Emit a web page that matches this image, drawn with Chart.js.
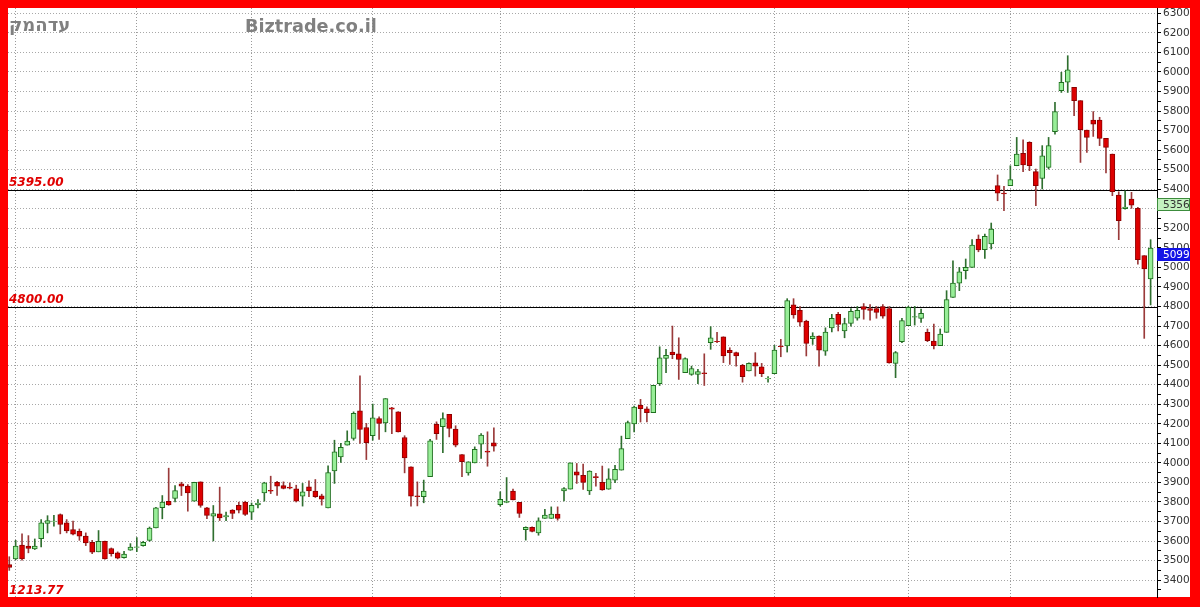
<!DOCTYPE html>
<html><head><meta charset="utf-8">
<script src="https://cdn.jsdelivr.net/npm/chart.js@4.4.0/dist/chart.umd.min.js"></script>
<style>html,body{margin:0;padding:0;background:#ff0000;overflow:hidden}#wrap{width:1200px;height:607px;position:relative}</style>
</head><body><div id="wrap"><canvas id="c" width="1200" height="607"></canvas></div>
<script>
// ---- data (OHLC, one candle per trading day, index 0..179) ----
const opens=[3480,3509,3580,3574,3560,3613,3690,3700,3736,3693,3659,3650,3625,3594,3545,3599,3562,3540,3515,3553,
3568,3577,3604,3668,3771,3804,3818,3893,3881,3804,3903,3770,3727,3739,3724,3758,3783,3800,3748,3785,
3847,3860,3901,3884,3876,3867,3830,3878,3856,3832,3770,3959,4031,4091,4125,4266,4181,4139,4227,4205,
4282,4261,4130,3980,3832,3827,3929,4197,4185,4248,4173,4043,3949,4000,4096,4060,4103,3786,3798,3856,
3798,3659,3670,3642,3716,3716,3738,3857,3866,3954,3937,3857,3930,3900,3865,3912,3963,4124,4200,4294,
4277,4257,4405,4535,4567,4558,4461,4453,4453,4461,4615,4622,4645,4576,4564,4499,4470,4512,4492,4430,
4456,4598,4598,4808,4780,4725,4636,4649,4572,4690,4760,4675,4713,4740,4800,4790,4790,4800,4790,4509,
4620,4702,4745,4739,4668,4623,4600,4668,4847,4920,4983,5000,5145,5091,5120,5418,5380,5418,5520,5583,
5640,5490,5455,5512,5694,5904,5947,5921,5853,5702,5754,5754,5660,5580,5370,5301,5350,5302,5060,4941];
const highs=[3520,3604,3637,3628,3611,3710,3730,3732,3739,3710,3702,3662,3642,3604,3654,3600,3565,3545,3548,3587,
3618,3599,3672,3773,3833,3973,3884,3901,3889,3901,3903,3773,3782,3876,3748,3761,3799,3804,3795,3812,
3901,3932,3906,3903,3898,3886,3895,3908,3915,3840,3985,4116,4100,4164,4261,4445,4202,4301,4236,4329,
4284,4262,4139,3980,3903,3912,4120,4210,4256,4248,4190,4043,4006,4082,4150,4159,4180,3852,3925,3866,
3798,3673,3673,3719,3762,3775,3775,3874,4000,3997,3994,3960,3946,3984,3970,3987,4137,4214,4291,4325,
4287,4397,4594,4581,4700,4640,4538,4495,4478,4558,4697,4668,4645,4589,4567,4504,4512,4564,4509,4441,
4601,4632,4840,4840,4800,4730,4666,4650,4691,4760,4770,4740,4790,4800,4815,4810,4800,4810,4800,4570,
4740,4801,4801,4787,4685,4710,4685,4881,5034,5000,5043,5142,5166,5171,5227,5473,5415,5520,5665,5653,
5643,5503,5623,5665,5844,5998,6083,5921,5853,5702,5797,5768,5660,5580,5387,5392,5384,5307,5060,5142];
const lows=[3450,3505,3502,3540,3557,3570,3642,3676,3637,3642,3632,3604,3577,3536,3545,3508,3523,3509,3512,3553,
3546,3574,3599,3668,3714,3783,3800,3833,3753,3804,3773,3715,3601,3705,3705,3715,3744,3731,3710,3770,
3804,3843,3833,3867,3867,3800,3779,3827,3823,3784,3770,3895,4002,4091,4116,4099,4017,4116,4120,4159,
4150,4158,3949,3779,3780,3796,3929,4120,4052,4133,4082,3929,3937,4000,4023,3983,4060,3779,3796,3810,
3721,3605,3647,3630,3716,3716,3707,3806,3866,3895,3864,3838,3881,3860,3865,3899,3963,4124,4158,4209,
4209,4257,4396,4461,4533,4427,4461,4448,4405,4396,4581,4615,4513,4504,4495,4413,4470,4444,4441,4413,
4456,4543,4567,4740,4700,4547,4606,4495,4550,4670,4675,4640,4700,4730,4735,4730,4740,4740,4510,4436,
4615,4702,4705,4719,4620,4583,4600,4668,4847,4881,4941,5000,5080,5046,5094,5341,5290,5418,5520,5490,
5495,5316,5401,5503,5682,5895,5895,5776,5537,5588,5670,5623,5483,5367,5142,5298,5302,5017,4637,4808];
const closes=[3465,3574,3509,3562,3574,3693,3705,3702,3685,3652,3635,3625,3591,3543,3599,3509,3536,3512,3534,3570,
3571,3594,3666,3770,3800,3785,3858,3881,3847,3901,3783,3731,3741,3719,3731,3741,3758,3736,3783,3795,
3898,3856,3881,3870,3871,3804,3852,3857,3827,3815,3951,4057,4079,4111,4253,4171,4103,4231,4202,4329,
4275,4159,4026,3830,3827,3856,4113,4150,4227,4176,4091,4006,4006,4069,4142,4055,4086,3813,3803,3810,
3741,3670,3650,3704,3733,3738,3716,3869,4000,3937,3900,3958,3925,3862,3919,3967,4073,4206,4286,4277,
4257,4397,4538,4550,4553,4529,4533,4483,4467,4456,4640,4620,4547,4564,4547,4441,4509,4495,4456,4432,
4577,4595,4830,4757,4720,4611,4649,4577,4669,4740,4709,4713,4775,4780,4785,4780,4770,4750,4512,4564,
4728,4796,4748,4765,4625,4600,4659,4835,4920,4978,5000,5114,5089,5159,5196,5380,5376,5449,5580,5524,
5520,5418,5571,5623,5797,5947,6011,5853,5704,5665,5733,5660,5614,5387,5239,5309,5319,5040,4992,5099];
const monthStarts=[1,20,38,57,77,98,120,141,157];   // vertical grid lines (candle index)
const levelValues=[5395,4800];
const levelLabels=['5395.00','4800.00'];
const baseLabel='1213.77';
const markValue=5356;      // green marker box
const lastClose=5099;      // blue marker box
const titleText='עדהמק';   // Hebrew title (logical order)
const siteText='Biztrade.co.il';
const yMin=3314, yMax=6327, yStep=50;

// ---- build datasets ----
const idx=opens.map((_,i)=>i);
const up=idx.map(i=>closes[i]>=opens[i]);
const bodies=idx.map(i=>({x:i,y:[opens[i],closes[i]]}));
const wicks=idx.map(i=>({x:i,y:[lows[i],highs[i]]}));

const framePlugin={
  id:'frame',
  beforeDraw(chart){
    const ctx=chart.ctx;
    ctx.save();
    ctx.fillStyle='#ff0000';ctx.fillRect(0,0,chart.width,chart.height);
    ctx.fillStyle='#ffffff';ctx.fillRect(8,8,1182,589);
    ctx.restore();
  },
  beforeDatasetsDraw(chart){
    const ctx=chart.ctx,a=chart.chartArea,ys=chart.scales.y;
    ctx.save();
    ctx.strokeStyle='#000';ctx.lineWidth=1;
    levelValues.forEach(v=>{
      const y=Math.round(ys.getPixelForValue(v))+0.5;
      ctx.beginPath();ctx.moveTo(a.left,y);ctx.lineTo(a.right,y);ctx.stroke();
    });
    ctx.restore();
  },
  afterDraw(chart){
    const ctx=chart.ctx,a=chart.chartArea,ys=chart.scales.y;
    ctx.save();
    ctx.font='italic bold 12px "DejaVu Sans"';
    ctx.fillStyle='#e00000';ctx.textAlign='left';ctx.textBaseline='alphabetic';
    levelValues.forEach((v,k)=>{
      const y=Math.round(ys.getPixelForValue(v));
      ctx.fillText(levelLabels[k],9,y-4);
    });
    ctx.fillText(baseLabel,9,594);
    // Hebrew title: right-to-left, laid out glyph by glyph so the visual order is fixed
    ctx.fillStyle='#808080';
    ctx.font='bold 18px "DejaVu Sans"';
    let tx=9;
    Array.from(titleText).reverse().forEach(ch=>{ctx.fillText(ch,tx,31);tx+=ctx.measureText(ch).width;});
    ctx.font='bold 17.7px "DejaVu Sans"';
    ctx.fillText(siteText,245,32);
    const drawBox=(v,bg,border,fg)=>{
      const y=Math.round(ys.getPixelForValue(v));
      ctx.fillStyle=bg;ctx.fillRect(a.right,y,33,13);
      ctx.strokeStyle=border;ctx.lineWidth=1;ctx.strokeRect(a.right+0.5,y+0.5,32,12);
      ctx.fillStyle=fg;ctx.font='10.5px "DejaVu Sans"';ctx.textBaseline='middle';
      ctx.fillText(String(v),a.right+6,y+7);
    };
    drawBox(markValue,'#c4f2c0','#3c8c3c','#333333');
    drawBox(lastClose,'#1414e6','#1414e6','#ffffff');
    ctx.restore();
  }
};

new Chart(document.getElementById('c'),{
  type:'bar',
  data:{datasets:[
    {label:'body',data:bodies,grouped:false,barThickness:5,borderWidth:1,borderSkipped:false,
     backgroundColor:up.map(u=>u?'#98ee98':'#dd0000'),borderColor:up.map(u=>u?'#1f6f1f':'#8c0000')},
    {label:'wick',data:wicks,grouped:false,barThickness:1,borderWidth:0,
     backgroundColor:up.map(u=>u?'#2f6f2f':'#9a3a3a')}
  ]},
  options:{
    responsive:false,animation:false,devicePixelRatio:1,
    layout:{padding:{left:8,top:8,right:10,bottom:10}},
    plugins:{legend:{display:false},tooltip:{enabled:false}},
    events:[],
    scales:{
      x:{type:'linear',min:-0.2,max:180,offset:false,
        afterBuildTicks(s){s.ticks=monthStarts.map(v=>({value:v}));},
        afterFit(s){s.height=0;s.paddingLeft=0;s.paddingRight=0;},
        ticks:{display:false},
        grid:{offset:false,drawTicks:false,color:'#9a9a9a',lineWidth:1},
        border:{display:false,dash:[1,2]}},
      y:{type:'linear',position:'right',min:yMin,max:yMax,
        afterBuildTicks(s){const t=[];for(let v=3350;v<=6300;v+=yStep)t.push({value:v});s.ticks=t;},
        afterFit(s){s.width=33;s.paddingTop=0;s.paddingBottom=0;},
        ticks:{autoSkip:false,padding:2,color:'#333333',font:{family:'DejaVu Sans',size:10.5},
          callback:v=>(v%100===0?String(v):'')},
        grid:{tickLength:4,lineWidth:1,
          color:c=>(c.tick&&c.tick.value%100===0?'#a8a8a8':'rgba(0,0,0,0)'),
          tickColor:'#000'},
        border:{display:true,color:'#000',width:1,dash:[1,2]}}
    }
  },
  plugins:[framePlugin]
});
</script></body></html>
